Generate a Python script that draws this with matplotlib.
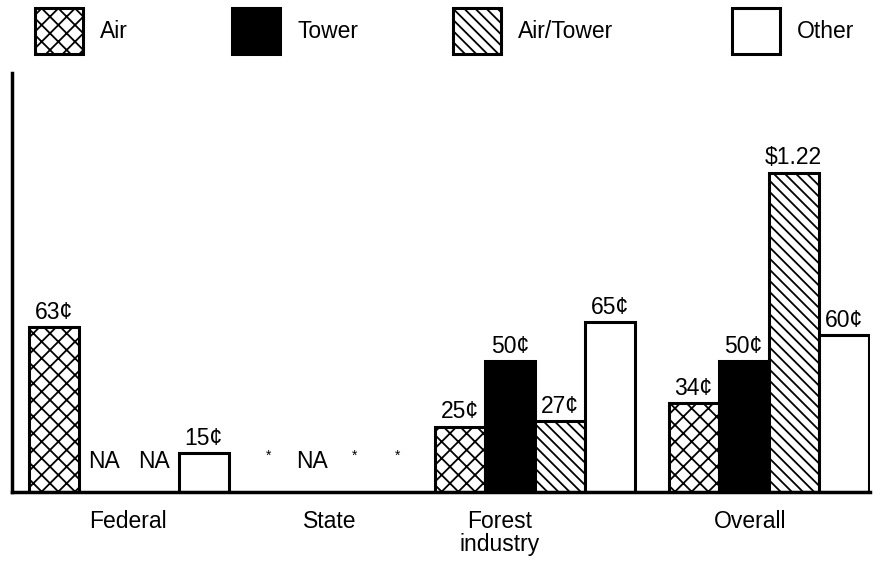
import numpy as np
import matplotlib.pyplot as plt
from matplotlib.patches import Patch

plt.rcParams['font.family'] = ['Liberation Sans', 'DejaVu Sans']
plt.rcParams['hatch.linewidth'] = 1.3

series = ['Air', 'Tower', 'Air/Tower', 'Other']
groups = ['Federal', 'State', 'Forest\nindustry', 'Overall']
# cents per acre; None = no bar
values = {
    'Air':       [63, None, 25, 34],
    'Tower':     [None, None, 50, 50],
    'Air/Tower': [None, None, 27, 122],
    'Other':     [15, None, 65, 60],
}
labels = {
    'Air':       ['63¢', '*', '25¢', '34¢'],
    'Tower':     ['NA', 'NA', '50¢', '50¢'],
    'Air/Tower': ['NA', '*', '27¢', '$1.22'],
    'Other':     ['15¢', '*', '65¢', '60¢'],
}

styles = {
    'Air':       dict(facecolor='white', hatch='xx'),
    'Tower':     dict(facecolor='black', hatch=None),
    'Air/Tower': dict(facecolor='white', hatch='\\\\\\'),
    'Other':     dict(facecolor='white', hatch=None),
}

group_x = np.array([128.5, 333, 535, 768.5])
bar_w = np.array([50, 43, 50, 50])
label_x = [128, 330, 500, 750]

fig = plt.figure(figsize=(8.85, 5.61), dpi=100)
ax = fig.add_axes([12 / 885, (561 - 492) / 561, (870 - 12) / 885, (492 - 73) / 561])
ax.set_xlim(12, 870)
ax.set_ylim(0, 160)

fs = 16.5
for k, s in enumerate(series):
    off = (k - 1.5) * bar_w
    xs = group_x + off
    for g in range(len(groups)):
        v = values[s][g]
        lab = labels[s][g]
        if v is not None:
            ax.bar(xs[g], v, width=bar_w[g], edgecolor='black', linewidth=2.2,
                   **styles[s])
            ax.text(xs[g], v + 1.2, lab, ha='center', va='bottom', fontsize=fs)
        elif lab == '*':
            ax.text(xs[g], 14, lab, ha='center', va='center', fontsize=10)
        else:
            ax.text(xs[g], 11.5, lab, ha='center', va='center', fontsize=fs)

for sp in ['top', 'right']:
    ax.spines[sp].set_visible(False)
ax.spines['left'].set_linewidth(2.5)
ax.spines['bottom'].set_linewidth(2.5)
ax.set_yticks([])
ax.set_xticks(label_x)
ax.set_xticklabels(groups, fontsize=fs, linespacing=1.0, va='top')
ax.tick_params(axis='x', length=0, pad=13)

box_left = [35, 232, 453, 732]
for s, bx in zip(series, box_left):
    h = Patch(edgecolor='black', linewidth=2.2, **styles[s])
    fig.legend(handles=[h], labels=[s], loc='upper left',
               bbox_to_anchor=(bx / 885, 1 - 8 / 561), borderaxespad=0,
               borderpad=0, frameon=False, fontsize=fs,
               handlelength=2.1, handleheight=2.7, handletextpad=0.75)

fig.savefig('out.png', dpi=100)
